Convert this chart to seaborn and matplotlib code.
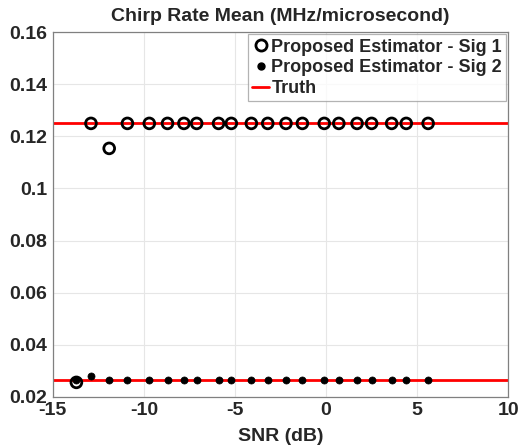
import matplotlib
matplotlib.use("Agg")
import matplotlib.pyplot as plt
import seaborn as sns
import pandas as pd
from matplotlib.lines import Line2D

snr = [-13.7, -12.9, -11.9, -10.9, -9.7, -8.7, -7.8, -7.1, -5.9, -5.2, -4.1,
       -3.2, -2.2, -1.3, -0.1, 0.7, 1.7, 2.5, 3.6, 4.4, 5.6]
sig1 = [0.0255, 0.125, 0.1154, 0.125, 0.125, 0.125, 0.125, 0.125, 0.125, 0.125, 0.125,
        0.125, 0.125, 0.125, 0.125, 0.125, 0.125, 0.125, 0.125, 0.125, 0.125]
sig2 = [0.0264, 0.0280, 0.0265, 0.0265, 0.0265, 0.0265, 0.0265, 0.0265, 0.0265, 0.0265, 0.0265,
        0.0265, 0.0265, 0.0265, 0.0265, 0.0265, 0.0265, 0.0265, 0.0265, 0.0265, 0.0265]
truth = [0.125, 0.0264]
xticks = [-15, -10, -5, 0, 5, 10]
yticks = [0.02, 0.04, 0.06, 0.08, 0.1, 0.12, 0.14, 0.16]
ytick_labels = ["0.02", "0.04", "0.06", "0.08", "0.1", "0.12", "0.14", "0.16"]

sns.set_style("whitegrid")
plt.rcParams['font.family'] = ['Liberation Sans', 'DejaVu Sans']
plt.rcParams['font.weight'] = 'bold'

fig = plt.figure(figsize=(5.21, 4.46), dpi=100)
ax = fig.add_axes([52.7/521, 1 - 396.7/446, (508.3-52.7)/521, (396.7-32.3)/446])

df1 = pd.DataFrame({"snr": snr, "val": sig1})
df2 = pd.DataFrame({"snr": snr, "val": sig2})

for t in truth:
    ax.axhline(t, color="#ff0000", lw=2, zorder=2)

sns.scatterplot(data=df1, x="snr", y="val", ax=ax, marker="o", s=60,
                facecolor="none", edgecolor="black", linewidth=2, zorder=3)
sns.scatterplot(data=df2, x="snr", y="val", ax=ax, marker="o", s=26,
                color="black", edgecolor="black", linewidth=0.5, zorder=4)

ax.set_xlim(-15, 10)
ax.set_ylim(0.02, 0.16)
ax.set_xticks(xticks)
ax.set_xticklabels([str(v) for v in xticks])
ax.set_yticks(yticks)
ax.set_yticklabels(ytick_labels)
ax.grid(True, color="#e6e6e6", lw=0.8)
for sp in ax.spines.values():
    sp.set_color("#808080")
    sp.set_linewidth(0.9)
ax.tick_params(axis="both", direction="in", length=4, color="#808080",
               labelsize=14, pad=4, labelcolor="#262626")
for lab in ax.get_xticklabels() + ax.get_yticklabels():
    lab.set_fontweight("bold")

ax.set_xlabel("SNR (dB)", fontsize=14, fontweight="bold", color="#262626", labelpad=6)
ax.set_ylabel("")
ax.set_title("Chirp Rate Mean (MHz/microsecond)", fontsize=14, fontweight="bold", pad=8)

handles = [
    Line2D([], [], marker="o", ls="none", mfc="none", mec="black", mew=2, ms=8),
    Line2D([], [], marker="o", ls="none", mfc="black", mec="black", ms=5),
    Line2D([], [], color="#ff0000", lw=2),
]
leg = ax.legend(handles, ["Proposed Estimator - Sig 1", "Proposed Estimator - Sig 2", "Truth"],
                loc="upper right", prop={"weight": "bold", "size": 13},
                frameon=True, fancybox=False, borderpad=0.25, labelspacing=0.2,
                handlelength=0.9, handletextpad=0.15, borderaxespad=0.1)
leg.get_frame().set_edgecolor("#a0a0a0")
leg.get_frame().set_linewidth(0.9)

fig.savefig("out.png", dpi=100)
